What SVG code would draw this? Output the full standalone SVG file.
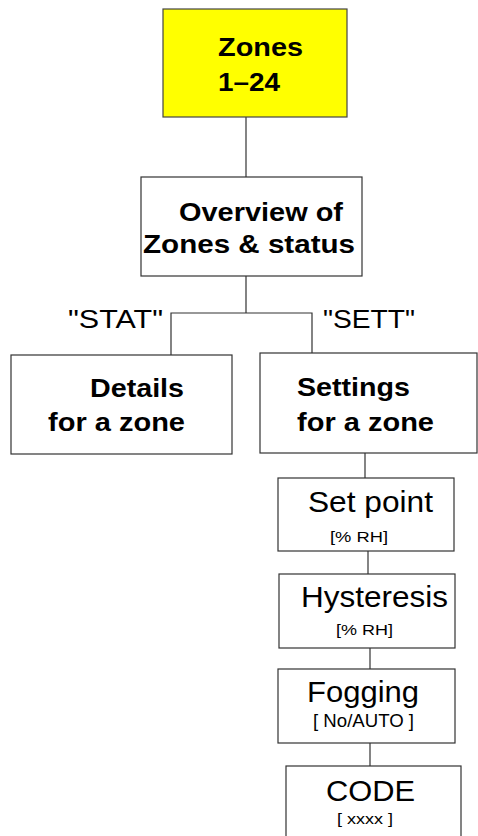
<svg xmlns="http://www.w3.org/2000/svg" width="478" height="836" viewBox="0 0 478 836">
<style>
.box{fill:#fff;stroke:#333;stroke-width:1.2}
.yel{fill:#ffff00;stroke:#444;stroke-width:1.2}
.b{font-family:"Liberation Sans",Arial,sans-serif;font-weight:bold;font-size:26px;fill:#000}
.r{font-family:"Liberation Sans",Arial,sans-serif;font-size:29px;fill:#000}
.lab{font-family:"Liberation Sans",Arial,sans-serif;font-size:25px;fill:#000}
.s{font-family:"Liberation Sans",Arial,sans-serif;font-size:15px;fill:#000}
.c{fill:none;stroke:#333;stroke-width:1.2}
</style>
<rect width="478" height="836" fill="#fff"/>
<g id="connectors">
<path class="c" d="M246,117V177"/>
<path class="c" d="M246,276V313M171,355V313H312V353"/>
<path class="c" d="M365,453V478"/>
<path class="c" d="M368,551V574"/>
<path class="c" d="M370,648V669"/>
<path class="c" d="M370,743V766"/>
</g>
<g id="zones">
<rect class="yel" x="163" y="9" width="184" height="108"/>
<text class="b" x="218" y="56" textLength="85" lengthAdjust="spacingAndGlyphs">Zones</text>
<text class="b" x="218" y="91" textLength="62" lengthAdjust="spacingAndGlyphs">1–24</text>
</g>
<g id="overview">
<rect class="box" x="141" y="177" width="221" height="99"/>
<text class="b" x="179" y="221" textLength="164" lengthAdjust="spacingAndGlyphs">Overview of</text>
<text class="b" x="143" y="253" textLength="212" lengthAdjust="spacingAndGlyphs">Zones &amp; status</text>
</g>
<g id="labels">
<text class="lab" x="68" y="328" textLength="95" lengthAdjust="spacingAndGlyphs">"STAT"</text>
<text class="lab" x="323" y="328" textLength="92" lengthAdjust="spacingAndGlyphs">"SETT"</text>
</g>
<g id="details">
<rect class="box" x="11" y="355" width="221" height="99"/>
<text class="b" x="90" y="397" textLength="94" lengthAdjust="spacingAndGlyphs">Details</text>
<text class="b" x="48" y="431" textLength="137" lengthAdjust="spacingAndGlyphs">for a zone</text>
</g>
<g id="settings">
<rect class="box" x="260" y="353" width="217" height="100"/>
<text class="b" x="297" y="396" textLength="113" lengthAdjust="spacingAndGlyphs">Settings</text>
<text class="b" x="297" y="431" textLength="137" lengthAdjust="spacingAndGlyphs">for a zone</text>
</g>
<g id="setpoint">
<rect class="box" x="278" y="478" width="176" height="73"/>
<text class="r" x="308" y="512" textLength="125" lengthAdjust="spacingAndGlyphs">Set point</text>
<text class="s" x="330" y="542" textLength="58" lengthAdjust="spacingAndGlyphs">[% RH]</text>
</g>
<g id="hysteresis">
<rect class="box" x="279" y="574" width="176" height="74"/>
<text class="r" x="301" y="607" textLength="147" lengthAdjust="spacingAndGlyphs">Hysteresis</text>
<text class="s" x="336" y="635" textLength="57" lengthAdjust="spacingAndGlyphs">[% RH]</text>
</g>
<g id="fogging">
<rect class="box" x="278" y="669" width="177" height="74"/>
<text class="r" x="307" y="702" textLength="112" lengthAdjust="spacingAndGlyphs">Fogging</text>
<text class="s" x="313" y="727" textLength="101" lengthAdjust="spacingAndGlyphs" style="font-size:18px">[ No/AUTO ]</text>
</g>
<g id="code">
<rect class="box" x="286" y="766" width="175" height="80"/>
<text class="r" x="326" y="801" textLength="89" lengthAdjust="spacingAndGlyphs">CODE</text>
<text class="s" x="337" y="824" textLength="56" lengthAdjust="spacingAndGlyphs">[ xxxx ]</text>
</g>
</svg>
